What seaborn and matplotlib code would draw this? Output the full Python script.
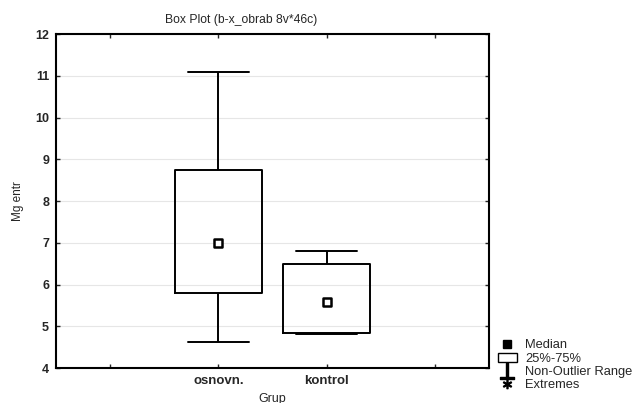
import numpy as np
import pandas as pd
import matplotlib
matplotlib.use("Agg")
import matplotlib.pyplot as plt
from matplotlib.lines import Line2D
from matplotlib.patches import Rectangle
import seaborn as sns

# Data (five-number summaries)
groups = ["osnovn.", "kontrol"]
minimum = [4.62, 4.82]
q1 = [5.80, 4.84]
median = [7.00, 5.58]
q3 = [8.75, 6.50]
maximum = [11.10, 6.80]

yticks = [4, 5, 6, 7, 8, 9, 10, 11, 12]
xtick_labels = ["", "osnovn.", "kontrol", ""]

rows = []
for i, g in enumerate(groups):
    for v in (minimum[i], q1[i], median[i], q3[i], maximum[i]):
        rows.append({"Grup": g, "Mg entr": v})
df = pd.DataFrame(rows)
med_df = pd.DataFrame({"Grup": groups, "Mg entr": median})

sns.set_style("white")
plt.rcParams["font.family"] = ["Liberation Sans", "DejaVu Sans"]

fig = plt.figure(figsize=(6.38, 4.03), dpi=100)
ax = fig.add_axes([0.0878, 0.0868, 0.6787, 0.8288])

sns.boxplot(data=df, x="Grup", y="Mg entr", order=groups, ax=ax,
            fill=False, color="black", linewidth=1.4, width=0.8,
            whis=(0, 100), showfliers=False, capwidths=0.56,
            medianprops={"visible": False})
sns.scatterplot(data=med_df, x="Grup", y="Mg entr", ax=ax, marker="s",
                s=26, facecolor="white", edgecolor="black", linewidth=1.8,
                zorder=5, legend=False)

ax.set_xlim(-1.5, 2.5)
ax.set_ylim(4, 12)
ax.set_xticks([-1, 0, 1, 2])
ax.set_xticklabels(xtick_labels, fontweight="bold", fontsize=9.5)
ax.set_yticks(yticks)
ax.set_yticklabels([str(t) for t in yticks], fontweight="bold", fontsize=9)
ax.yaxis.grid(True, color="#e6e6e6", linewidth=0.8)
ax.set_axisbelow(True)
ax.tick_params(axis="both", which="both", direction="in", length=3, width=1,
               top=True, right=True, left=True, bottom=True, pad=5)
for sp in ax.spines.values():
    sp.set_visible(True)
    sp.set_color("black")
    sp.set_linewidth(1.5)

fig.text(0.378, 0.95, "Box Plot (b-x_obrab 8v*46c)", fontsize=8.7,
         ha="center", va="center")
ax.set_xlabel("Grup", fontsize=9, labelpad=4)
ax.set_ylabel("Mg entr", fontsize=8.5, labelpad=8)

handles = [
    Line2D([], [], marker="s", color="black", linestyle="none", markersize=5.5),
    Rectangle((0, 0), 1, 1, facecolor="white", edgecolor="black", linewidth=1),
    Line2D([], [], marker="$\\perp$", color="black", linestyle="none", markersize=11),
    Line2D([], [], marker="$*$", color="black", linestyle="none", markersize=6),
]
labels = ["Median", "25%-75%", "Non-Outlier Range", "Extremes"]
fig.legend(handles, labels, loc="lower left", bbox_to_anchor=(0.772, 0.016),
           frameon=False, fontsize=9.3, handlelength=1.5, handletextpad=0.6,
           labelspacing=0.1, borderaxespad=0)

fig.savefig("out.png", dpi=100)
